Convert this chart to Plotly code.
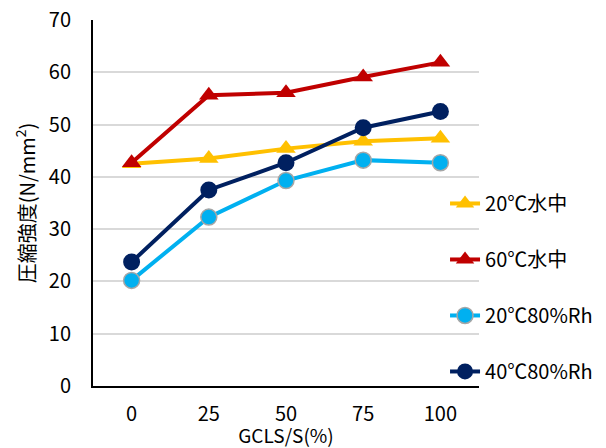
import plotly.graph_objects as go

categories = ["0", "25", "50", "75", "100"]
s_20w = [42.5, 43.5, 45.4, 46.8, 47.4]
s_60w = [42.7, 55.6, 56.1, 59.1, 61.9]
s_20rh = [20.2, 32.3, 39.3, 43.2, 42.7]
s_40rh = [23.7, 37.5, 42.7, 49.4, 52.5]
names = ["20℃水中", "60℃水中", "20℃80%Rh", "40℃80%Rh"]

FONT = "Noto Sans CJK JP"

fig = go.Figure()
fig.add_trace(go.Scatter(x=categories, y=s_20w, name=names[0], mode="lines+markers",
                         line=dict(color="#FFC000", width=4),
                         marker=dict(symbol="triangle-up", size=17, color="#FFC000"),
                         legendgroup="a"))
fig.add_trace(go.Scatter(x=categories, y=s_60w, name=names[1], mode="lines+markers",
                         line=dict(color="#C00000", width=4),
                         marker=dict(symbol="triangle-up", size=17, color="#C00000"),
                         legendgroup="b"))
fig.add_trace(go.Scatter(x=categories, y=s_20rh, name=names[2], mode="lines+markers",
                         line=dict(color="#00B0F0", width=4),
                         marker=dict(symbol="circle", size=16, color="#00B0F0",
                                     line=dict(color="#A6A6A6", width=1.5)),
                         legendgroup="c"))
fig.add_trace(go.Scatter(x=categories, y=s_40rh, name=names[3], mode="lines+markers",
                         line=dict(color="#002060", width=4),
                         marker=dict(symbol="circle", size=17, color="#002060"),
                         legendgroup="d"))

fig.update_layout(
    width=606, height=448,
    margin=dict(l=93, r=127, t=20, b=62, autoexpand=False),
    paper_bgcolor="white", plot_bgcolor="white",
    font=dict(family=FONT, size=20, color="#000000"),
    showlegend=True,
    legend=dict(x=0.912, y=0.552, xanchor="left", yanchor="top",
                bgcolor="rgba(0,0,0,0)", tracegroupgap=27,
                font=dict(family=FONT, size=20, color="#000000")),
    xaxis=dict(type="category", range=[-0.5, 4.5], showline=True, linecolor="#000000",
               linewidth=2, showgrid=False, ticks="", ticklabelstandoff=9, automargin=False,
               title=dict(text="GCLS/S(%)", standoff=0, font=dict(size=19))),
    yaxis=dict(range=[0, 70], dtick=10, showline=True, linecolor="#000000", linewidth=2,
               showgrid=True, gridcolor="#D9D9D9", gridwidth=1.5, zeroline=False,
               ticks="", ticklabelstandoff=16, automargin=False,
               title=dict(text="圧縮強度(N/mm<sup>2</sup>)", standoff=8, font=dict(size=20))),
)

fig.write_html("out.html")
